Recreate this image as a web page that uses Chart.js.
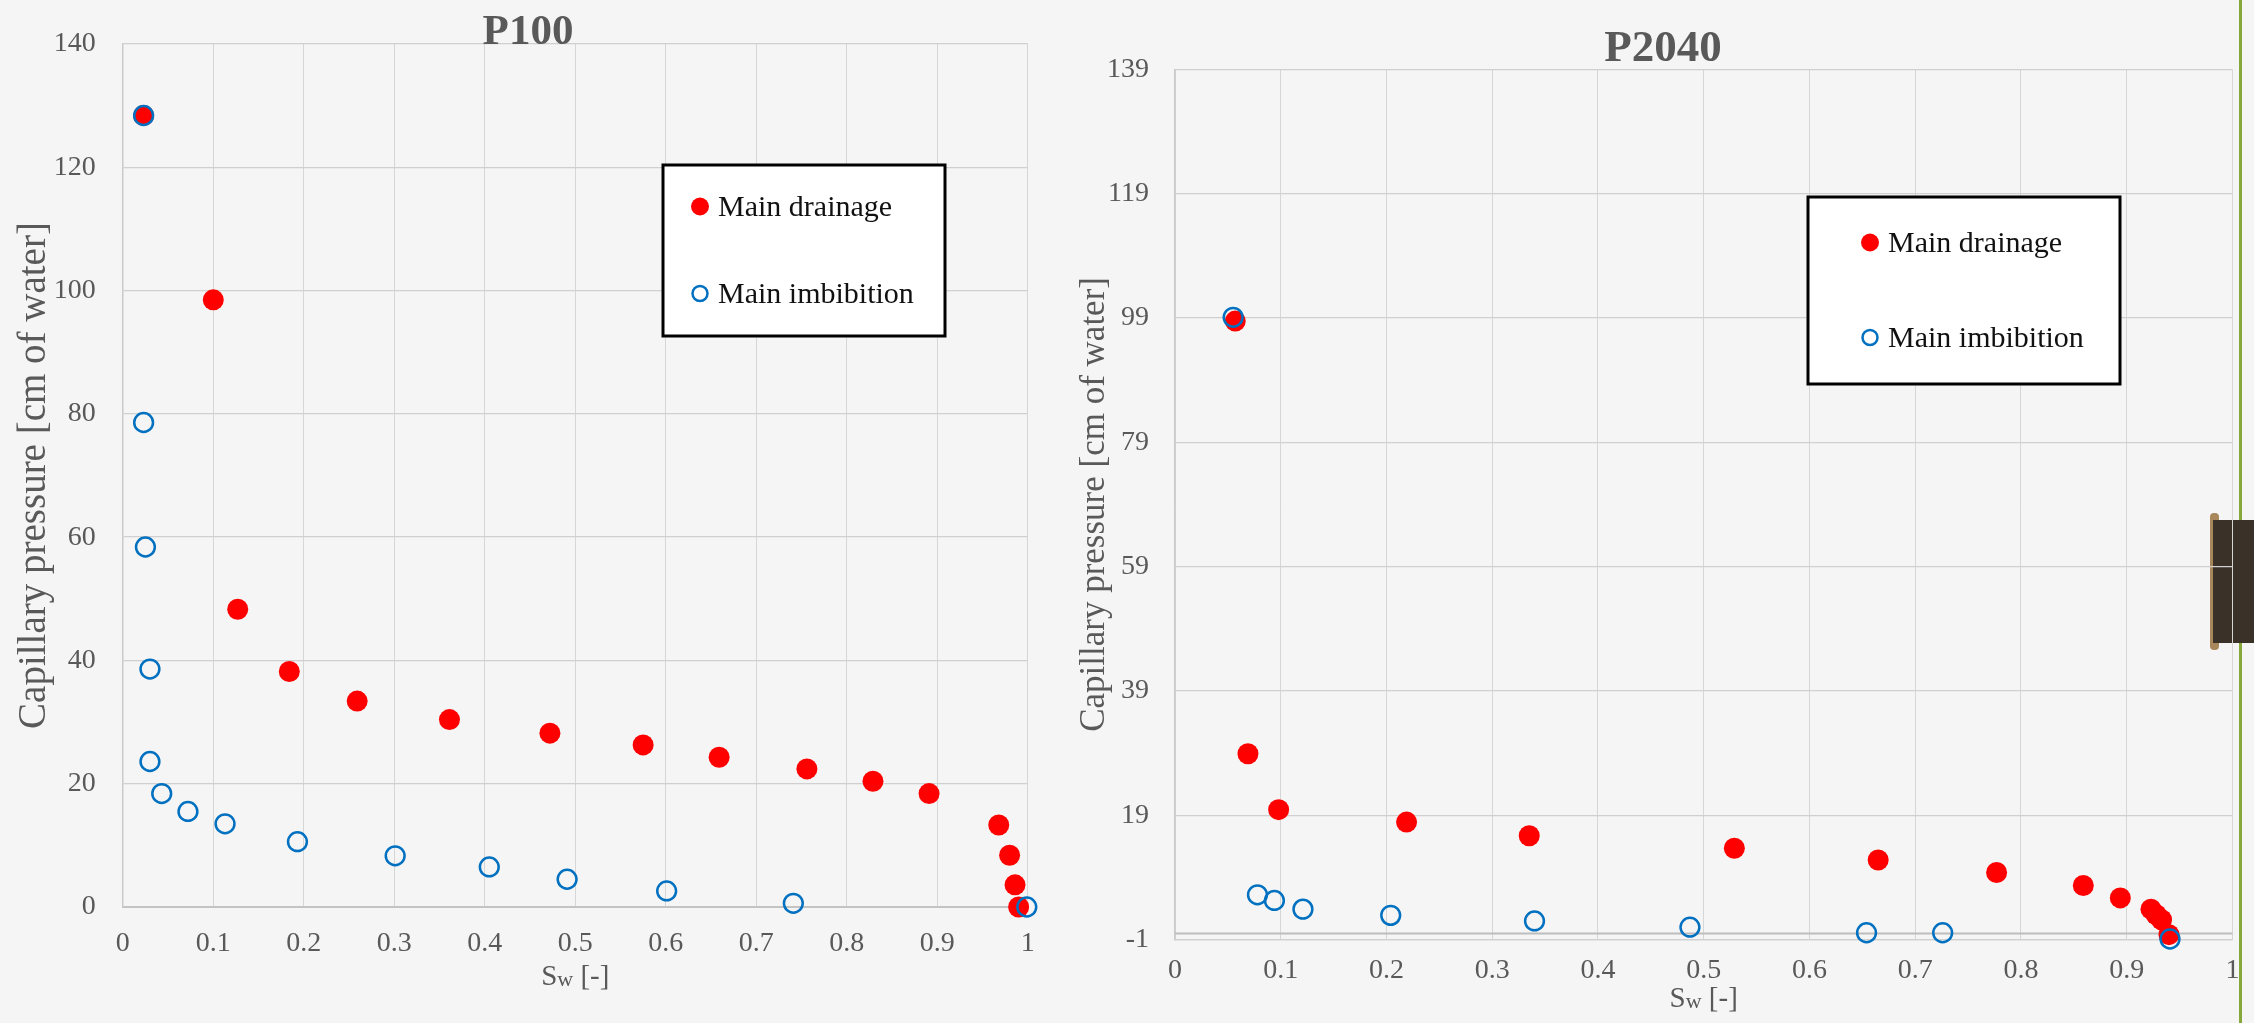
<!DOCTYPE html>
<html>
<head>
<meta charset="utf-8">
<title>Capillary pressure curves – P100 and P2040</title>
<script src="https://cdn.jsdelivr.net/npm/chart.js@4/dist/chart.umd.min.js"></script>
<style>
  html, body { margin: 0; padding: 0; }
  body { width: 2254px; height: 1023px; overflow: hidden; position: relative; background: #f5f5f5; }
  .panel { position: absolute; top: 0; height: 1023px; }
  #panelLeft { left: 0; width: 1060px; }
  #panelRight { left: 1070px; width: 1184px; }
  .page-edge { position: absolute; left: 2239px; top: 0; width: 3px; height: 1023px; background: #86a83a; }
  .tab-spine { position: absolute; left: 2210px; top: 513px; width: 9px; height: 137px; border-radius: 4px; background: #a8875a; }
  .tab-body { position: absolute; left: 2213px; top: 520px; width: 41px; height: 123px; background: #3a3128; }
  canvas { display: block; }
</style>
</head>
<body>
<div class="page-edge"></div>
<div class="tab-spine"></div>
<div class="tab-body"></div>
<div class="panel" id="panelLeft"><canvas id="chartP100" width="1060" height="1023"></canvas></div>
<div class="panel" id="panelRight"><canvas id="chartP2040" width="1184" height="1023"></canvas></div>
<script>
// ---- tick labels ----
const swTickLabels = ['0', '0.1', '0.2', '0.3', '0.4', '0.5', '0.6', '0.7', '0.8', '0.9', '1'];
const p100PcTickLabels = ['0', '20', '40', '60', '80', '100', '120', '140'];
const p2040PcTickLabels = ['-1', '19', '39', '59', '79', '99', '119', '139'];

// ---- series names and axis titles ----
const seriesNames = ['Main drainage', 'Main imbibition'];
const pcAxisTitle = 'Capillary pressure [cm of water]';
const swAxisTitleParts = ['S', 'w', ' [-]'];

// ---- P100: main drainage ----
const p100DrainageSw = [0.023, 0.100, 0.127, 0.184, 0.259, 0.361, 0.472, 0.575, 0.659, 0.756, 0.829, 0.891, 0.968, 0.980, 0.986, 0.990];
const p100DrainagePc = [128.4, 98.5, 48.3, 38.2, 33.4, 30.4, 28.2, 26.3, 24.3, 22.4, 20.4, 18.4, 13.3, 8.4, 3.6, 0.0];

// ---- P100: main imbibition ----
const p100ImbibitionSw = [0.023, 0.023, 0.025, 0.030, 0.030, 0.043, 0.072, 0.113, 0.193, 0.301, 0.405, 0.491, 0.601, 0.741, 0.999];
const p100ImbibitionPc = [128.4, 78.6, 58.4, 38.6, 23.6, 18.4, 15.5, 13.5, 10.6, 8.3, 6.5, 4.5, 2.6, 0.6, 0.0];

// ---- P2040: main drainage ----
const p2040DrainageSw = [0.057, 0.069, 0.098, 0.219, 0.335, 0.529, 0.665, 0.777, 0.859, 0.894, 0.923, 0.928, 0.933, 0.940];
const p2040DrainagePc = [98.5, 28.9, 19.9, 17.9, 15.7, 13.7, 11.8, 9.8, 7.7, 5.7, 3.9, 3.0, 2.2, -0.2];

// ---- P2040: main imbibition ----
const p2040ImbibitionSw = [0.055, 0.078, 0.094, 0.121, 0.204, 0.340, 0.487, 0.654, 0.726, 0.941];
const p2040ImbibitionPc = [99.1, 6.2, 5.3, 3.9, 2.9, 2.0, 1.0, 0.1, 0.1, -0.9];

const SERIF = '"Liberation Serif", "Times New Roman", serif';
const GREY = '#595959';

function toPoints(xs, ys) {
  return xs.map((x, i) => ({ x: x, y: ys[i] }));
}

// Boxed legend placed inside the plot area
const boxedLegend = {
  id: 'boxedLegend',
  afterDatasetsDraw(chart, args, opts) {
    const ctx = chart.ctx;
    const b = opts.box;
    ctx.save();
    ctx.fillStyle = '#ffffff';
    ctx.fillRect(b.left, b.top, b.right - b.left, b.bottom - b.top);
    ctx.lineWidth = 3;
    ctx.strokeStyle = '#000000';
    ctx.strokeRect(b.left, b.top, b.right - b.left, b.bottom - b.top);
    chart.data.datasets.forEach((ds, i) => {
      const cy = opts.rowY[i];
      ctx.beginPath();
      if (ds.pointBorderWidth > 0) {
        ctx.arc(opts.markerX, cy, 7.5, 0, Math.PI * 2);
        ctx.lineWidth = 2.5;
        ctx.strokeStyle = ds.pointBorderColor;
        ctx.stroke();
      } else {
        ctx.arc(opts.markerX, cy, 9, 0, Math.PI * 2);
        ctx.fillStyle = ds.pointBackgroundColor;
        ctx.fill();
      }
      ctx.fillStyle = '#111111';
      ctx.font = '30px ' + SERIF;
      ctx.textAlign = 'left';
      ctx.textBaseline = 'middle';
      ctx.fillText(ds.label, opts.textX, cy + 1.5);
    });
    ctx.restore();
  }
};

// Zero line of the pressure axis and the Sw axis title with its smaller "w"
const axisExtras = {
  id: 'axisExtras',
  beforeDatasetsDraw(chart, args, opts) {
    if (!opts.zeroLine) return;
    const ctx = chart.ctx;
    const y = chart.scales.y.getPixelForValue(0);
    ctx.save();
    ctx.strokeStyle = '#bdbdbd';
    ctx.lineWidth = 2;
    ctx.beginPath();
    ctx.moveTo(chart.chartArea.left, y);
    ctx.lineTo(chart.chartArea.right, y);
    ctx.stroke();
    ctx.restore();
  },
  afterDraw(chart, args, opts) {
    const ctx = chart.ctx;
    const sizes = [opts.swSize, opts.swSubSize, opts.swSize];
    const drops = [0, 1, 0];
    ctx.save();
    ctx.fillStyle = GREY;
    ctx.textBaseline = 'alphabetic';
    ctx.textAlign = 'left';
    let total = 0;
    const widths = swAxisTitleParts.map((t, i) => {
      ctx.font = sizes[i] + 'px ' + SERIF;
      const w = ctx.measureText(t).width;
      total += w;
      return w;
    });
    let x = (chart.chartArea.left + chart.chartArea.right) / 2 - total / 2;
    swAxisTitleParts.forEach((t, i) => {
      ctx.font = sizes[i] + 'px ' + SERIF;
      ctx.fillText(t, x, opts.swBaseline + drops[i]);
      x += widths[i];
    });
    ctx.restore();
  }
};

function buildChart(canvasId, spec) {
  const ctx = document.getElementById(canvasId).getContext('2d');
  return new Chart(ctx, {
    type: 'scatter',
    data: {
      datasets: [
        {
          label: seriesNames[0],
          data: toPoints(spec.drainageSw, spec.drainagePc),
          order: 1,
          pointRadius: 10.5,
          pointBackgroundColor: '#ff0000',
          pointBorderColor: '#ff0000',
          pointBorderWidth: 0,
          showLine: false,
          clip: false
        },
        {
          label: seriesNames[1],
          data: toPoints(spec.imbibitionSw, spec.imbibitionPc),
          order: 0,
          pointRadius: 9.4,
          pointBackgroundColor: 'rgba(0,0,0,0)',
          pointBorderColor: '#0070c0',
          pointBorderWidth: 2.5,
          showLine: false,
          clip: false
        }
      ]
    },
    options: {
      responsive: false,
      animation: false,
      devicePixelRatio: 1,
      events: [],
      layout: { padding: spec.padding },
      plugins: {
        legend: { display: false },
        tooltip: { enabled: false },
        title: {
          display: true,
          text: spec.title,
          color: GREY,
          font: { family: SERIF, size: spec.titleSize, weight: 'bold' },
          padding: spec.titlePadding
        },
        boxedLegend: spec.legend,
        axisExtras: {
          zeroLine: spec.zeroLine,
          swBaseline: spec.swBaseline,
          swSize: 29,
          swSubSize: 22
        }
      },
      scales: {
        x: {
          type: 'linear',
          min: 0,
          max: 1,
          afterFit: (s) => { s.height = spec.xAxisHeight; },
          ticks: {
            stepSize: 0.1,
            color: GREY,
            padding: spec.xTickPadding,
            font: { family: SERIF, size: 28 },
            maxRotation: 0,
            autoSkip: false,
            callback: (v, i) => swTickLabels[i]
          },
          grid: { color: '#d6d6d6', lineWidth: 1, drawTicks: false },
          border: { color: spec.xBorderColor, width: spec.xBorderWidth }
        },
        y: {
          type: 'linear',
          min: spec.yMin,
          max: spec.yMax,
          afterFit: (s) => { s.width = spec.yAxisWidth; },
          ticks: {
            stepSize: 20,
            color: GREY,
            padding: spec.yTickPadding,
            font: { family: SERIF, size: 28 },
            autoSkip: false,
            callback: (v, i) => spec.yTickLabels[i]
          },
          grid: { color: '#d0d0d0', lineWidth: 1.3, drawTicks: false },
          border: { color: '#cacaca', width: 1.5 },
          title: {
            display: true,
            text: pcAxisTitle,
            color: GREY,
            font: { family: SERIF, size: spec.yTitleSize },
            padding: { top: spec.yTitleShift, bottom: 0 }
          }
        }
      }
    },
    plugins: [boxedLegend, axisExtras]
  });
}

buildChart('chartP100', {
  title: 'P100',
  titleSize: 43,
  titlePadding: { top: 7.2, bottom: -14.8 },
  padding: { left: 28.3, right: 32.3, top: 0, bottom: 0 },
  drainageSw: p100DrainageSw, drainagePc: p100DrainagePc,
  imbibitionSw: p100ImbibitionSw, imbibitionPc: p100ImbibitionPc,
  yMin: 0, yMax: 140, yTickLabels: p100PcTickLabels,
  yAxisWidth: 94.5, yTickPadding: 27, yTitleSize: 39, yTitleShift: -16.7,
  xAxisHeight: 116, xTickPadding: 20.2,
  xBorderColor: '#c4c4c4', xBorderWidth: 2,
  zeroLine: false,
  swBaseline: 985,
  legend: {
    box: { left: 663, top: 165, right: 945, bottom: 336 },
    markerX: 700, textX: 718,
    rowY: [206.5, 293.5]
  }
});

buildChart('chartP2040', {
  title: 'P2040',
  titleSize: 45,
  titlePadding: { top: 22.8, bottom: -7.5 },
  padding: { left: 19.5, right: 17.5, top: 0, bottom: 0 },
  drainageSw: p2040DrainageSw, drainagePc: p2040DrainagePc,
  imbibitionSw: p2040ImbibitionSw, imbibitionPc: p2040ImbibitionPc,
  yMin: -1, yMax: 139, yTickLabels: p2040PcTickLabels,
  yAxisWidth: 85.5, yTickPadding: 26, yTitleSize: 35, yTitleShift: -15.5,
  xAxisHeight: 83.4, xTickPadding: 14.6,
  xBorderColor: '#d0d0d0', xBorderWidth: 1.3,
  zeroLine: true,
  swBaseline: 1007,
  legend: {
    box: { left: 738, top: 197, right: 1050, bottom: 384 },
    markerX: 800, textX: 818,
    rowY: [242.5, 337.5]
  }
});
</script>
</body>
</html>
